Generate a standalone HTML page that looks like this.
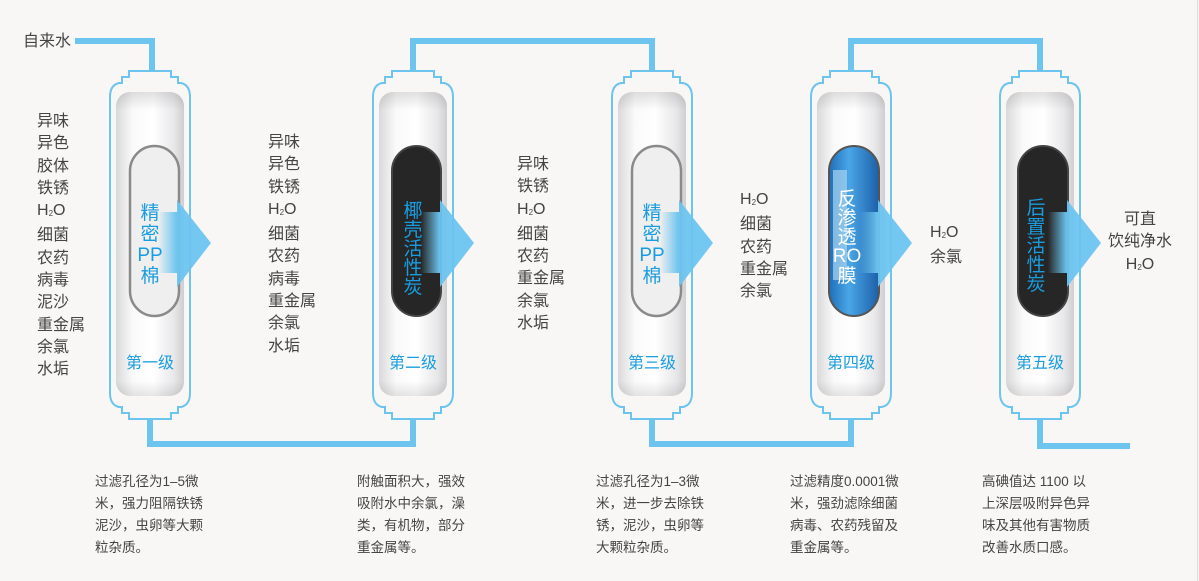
<!DOCTYPE html>
<html><head><meta charset="utf-8"><style>
html,body{margin:0;padding:0;background:#f9f7f6;}
body{width:1199px;height:581px;overflow:hidden;position:relative;font-family:"Liberation Sans","Noto Sans CJK SC",sans-serif;}
.t{position:absolute;color:#444;font-size:16px;line-height:22.3px;}
.d{position:absolute;color:#444;font-size:13.5px;line-height:22px;}
sub{font-size:8px;vertical-align:-1px;}
</style></head><body>
<svg width="1199" height="581" style="position:absolute;left:0;top:0">
<defs>
<linearGradient id="cart" x1="0" x2="1">
<stop offset="0" stop-color="#d9d9db"/><stop offset="0.25" stop-color="#fafafa"/><stop offset="0.55" stop-color="#ffffff"/><stop offset="0.85" stop-color="#e8e8ea"/><stop offset="1" stop-color="#cfcfd2"/>
</linearGradient>
<linearGradient id="cartv" x1="0" y1="0" x2="0" y2="1">
<stop offset="0" stop-color="#000" stop-opacity="0.12"/><stop offset="0.06" stop-color="#000" stop-opacity="0"/><stop offset="0.95" stop-color="#000" stop-opacity="0"/><stop offset="1" stop-color="#000" stop-opacity="0.1"/>
</linearGradient>
<linearGradient id="arr" x1="0" x2="1">
<stop offset="0" stop-color="#6cc4ef" stop-opacity="0"/><stop offset="1" stop-color="#6cc4ef"/>
</linearGradient>
<linearGradient id="blue" x1="0" x2="1">
<stop offset="0" stop-color="#1f6fb8"/><stop offset="0.4" stop-color="#4aa6e6"/><stop offset="1" stop-color="#1c5fa8"/>
</linearGradient>
<g id="housing">
<path d="M-21,71 H21 V77 H28 V83 H31 Q40,85 40,97 V393 Q40,405 31,407 H28 V413 H21 V419 H-21 V413 H-28 V407 H-31 Q-40,405 -40,393 V97 Q-40,85 -31,83 H-28 V77 H-21 Z" fill="none" stroke="#6cc4ef" stroke-width="2"/>
<rect x="-34" y="92" width="68" height="304" rx="14" fill="url(#cart)"/>
<rect x="-34" y="92" width="68" height="304" rx="14" fill="url(#cartv)"/>
</g>
<g id="arrow">
<rect x="8" y="212" width="19" height="61" fill="url(#arr)"/>
<polygon points="27,200 61,243 27,287" fill="#6cc4ef" opacity="0.95"/>
</g>
</defs>
<g fill="none" stroke="#6cc4ef" stroke-width="6">
<polyline points="75,41 152,41 152,72"/>
<polyline points="150,418 150,444 413,444 413,418"/>
<polyline points="413,72 413,41 652,41 652,72"/>
<polyline points="652,418 652,444 851,444 851,418"/>
<polyline points="851,72 851,41 1040,41 1040,72"/>
<polyline points="1040,418 1040,446 1130,446"/>
</g>
<g transform="translate(150,0)"><use href="#housing"/>
<rect x="-20" y="146" width="49" height="170" rx="25" fill="#efefef" stroke="#8a8a8a" stroke-width="2.5"/>
<use href="#arrow"/></g>
<g transform="translate(413,0)"><use href="#housing"/>
<rect x="-21" y="146" width="49" height="170" rx="25" fill="#262626" stroke="#444" stroke-width="2"/>
<use href="#arrow"/></g>
<g transform="translate(652,0)"><use href="#housing"/>
<rect x="-20" y="146" width="49" height="170" rx="25" fill="#efefef" stroke="#8a8a8a" stroke-width="2.5"/>
<use href="#arrow"/></g>
<g transform="translate(851,0)"><use href="#housing"/>
<rect x="-22" y="146" width="50" height="170" rx="25" fill="url(#blue)" stroke="#555" stroke-width="2"/>
<rect x="-18" y="170" width="14" height="110" fill="#a9d4f0" opacity="0.7"/>
<use href="#arrow"/></g>
<g transform="translate(1040,0)"><use href="#housing"/>
<rect x="-22" y="146" width="50" height="170" rx="25" fill="#262626" stroke="#444" stroke-width="2"/>
<use href="#arrow"/></g>
<g font-family="Liberation Sans, Noto Sans CJK SC, sans-serif" font-size="16" fill="#1a9de0" text-anchor="middle">
<text x="150" y="368">第一级</text><text x="413" y="368">第二级</text><text x="652" y="368">第三级</text><text x="851" y="368">第四级</text><text x="1040" y="368">第五级</text>
</g>
<g font-family="Liberation Sans, Noto Sans CJK SC, sans-serif" font-size="19" fill="#1a9de0" text-anchor="middle">
<text x="150" y="219">精</text><text x="150" y="240">密</text><text x="150" y="261">PP</text><text x="150" y="282">棉</text>
<text x="413" y="217">椰</text><text x="413" y="236">壳</text><text x="413" y="255">活</text><text x="413" y="274">性</text><text x="413" y="293">炭</text>
<text x="652" y="219">精</text><text x="652" y="240">密</text><text x="652" y="261">PP</text><text x="652" y="282">棉</text>
<g fill="#ffffff"><text x="847" y="205">反</text><text x="847" y="224">渗</text><text x="847" y="243">透</text><text x="847" y="262">RO</text><text x="847" y="282">膜</text></g>
<text x="1036" y="214">后</text><text x="1036" y="233">置</text><text x="1036" y="252">活</text><text x="1036" y="271">性</text><text x="1036" y="290">炭</text>
</g>
<line x1="1197.5" y1="0" x2="1197.5" y2="581" stroke="#ddd" stroke-width="1"/>
</svg>
<div class="t" style="left:23px;top:31px">自来水</div>
<div class="t" style="left:37px;top:111px">异味<br>异色<br>胶体<br>铁锈<br>H<sub>2</sub>O<br>细菌<br>农药<br>病毒<br>泥沙<br>重金属<br>余氯<br>水垢</div>
<div class="t" style="left:268px;top:132px">异味<br>异色<br>铁锈<br>H<sub>2</sub>O<br>细菌<br>农药<br>病毒<br>重金属<br>余氯<br>水垢</div>
<div class="t" style="left:517px;top:154px">异味<br>铁锈<br>H<sub>2</sub>O<br>细菌<br>农药<br>重金属<br>余氯<br>水垢</div>
<div class="t" style="left:740px;top:189px">H<sub>2</sub>O<br>细菌<br>农药<br>重金属<br>余氯</div>
<div class="t" style="left:930px;top:222px">H<sub>2</sub>O<br>余氯</div>
<div class="t" style="left:1100px;top:209px;width:80px;text-align:center">可直<br>饮纯净水<br>H<sub>2</sub>O</div>
<div class="d" style="left:95px;top:471px">过滤孔径为1–5微<br>米，强力阻隔铁锈<br>泥沙，虫卵等大颗<br>粒杂质。</div>
<div class="d" style="left:357px;top:471px">附触面积大，强效<br>吸附水中余氯，澡<br>类，有机物，部分<br>重金属等。</div>
<div class="d" style="left:596px;top:471px">过滤孔径为1–3微<br>米，进一步去除铁<br>锈，泥沙，虫卵等<br>大颗粒杂质。</div>
<div class="d" style="left:790px;top:471px">过滤精度0.0001微<br>米，强劲滤除细菌<br>病毒、农药残留及<br>重金属等。</div>
<div class="d" style="left:982px;top:471px">高碘值达 1100 以<br>上深层吸附异色异<br>味及其他有害物质<br>改善水质口感。</div>
</body></html>
